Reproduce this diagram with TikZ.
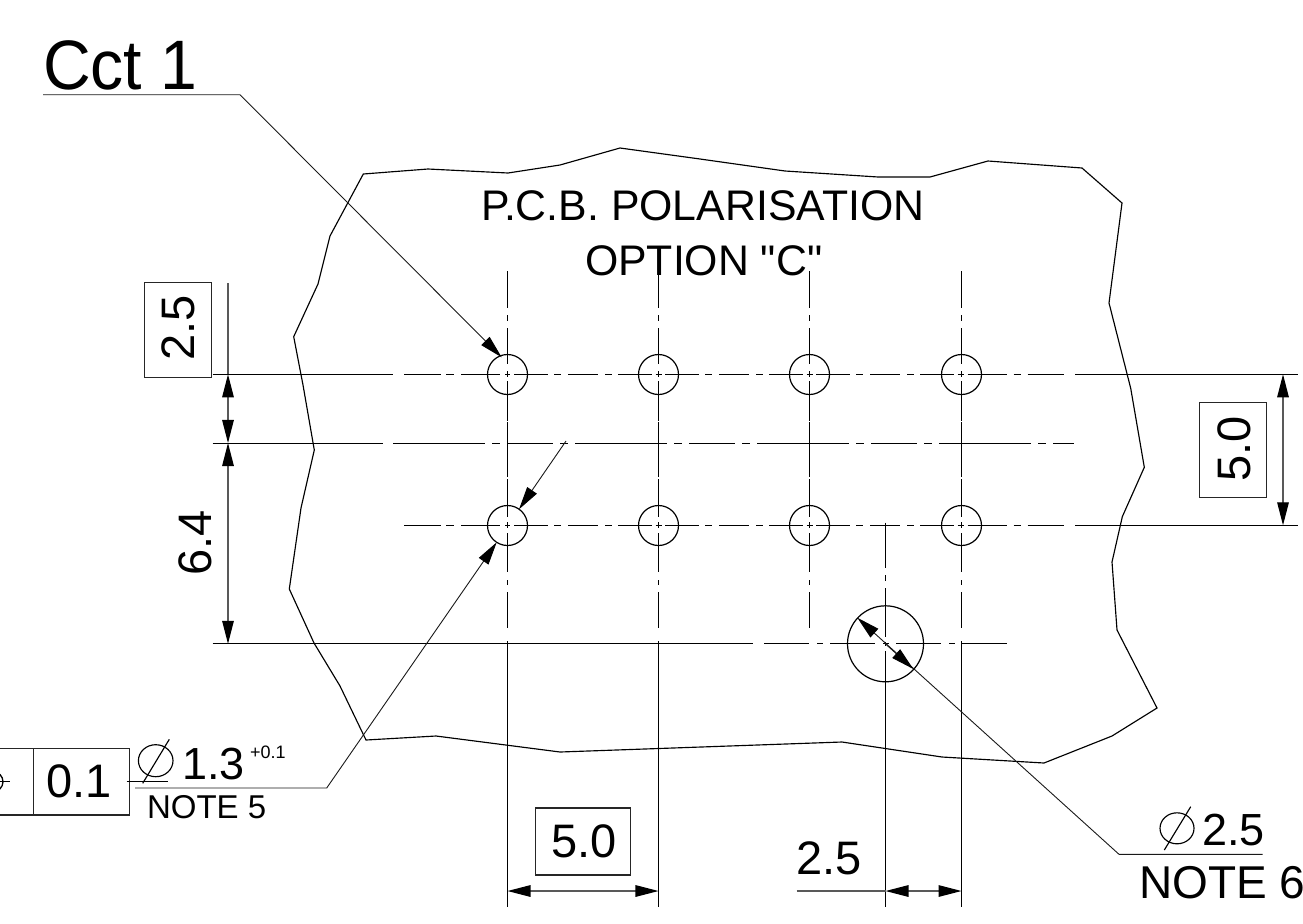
\documentclass[tikz,border=0pt]{standalone}
\usepackage{fontspec}
\setmainfont{Liberation Sans}
\newfontfamily\plainf{Liberation Sans}
\usetikzlibrary{arrows.meta}
\newcommand{\fsz}[1]{\fontsize{#1bp}{#1bp}\selectfont}
\tikzset{
  main/.style={line width=1.3bp,black},
  thin leader/.style={line width=0.9bp,black!90},
  dimline/.style={line width=1.2bp,black!65},
  boxline/.style={line width=1.05bp,black!85},
  tip/.style={-{Triangle[length=23.1pt,width=11.6pt,color=black,fill=black]}},
  bitip/.style={{Triangle[length=23.1pt,width=11.6pt,color=black,fill=black]}-{Triangle[length=23.1pt,width=11.6pt,color=black,fill=black]}},
  holepat/.style={main,dash pattern=on 37bp off 5bp on 8bp off 7bp on 39bp off 5bp
    on 5bp off 4bp on 34bp off 6bp on 7bp off 7bp on 30bp off 7bp on 7bp off 6bp on 34bp off 3.5bp
    on 6bp off 3.5bp on 34bp off 6bp on 7bp off 7bp on 30bp off 7bp on 7bp off 6bp on 34bp off 3.5bp
    on 6bp off 3.5bp on 34bp off 6bp on 7bp off 7bp on 30bp off 7bp on 7bp off 6bp on 34bp off 3.5bp
    on 6bp off 4bp on 39bp off 7bp on 7bp off 7bp on 40bp off 20bp},
  midpat/.style={main,dash pattern=on 91.5bp off 7.5bp on 8bp off 7bp on 46bp off 7bp on 8bp off 7bp},
  lowpat/.style={main,dash pattern=on 45bp off 8bp on 6bp off 7bp},
  hole/.style={circle,draw,line width=1.2bp,minimum size=40bp,inner sep=0pt},
  label/.style={inner sep=0pt,outer sep=0pt},
  dia/.style={line width=1.15bp,black}
}
\begin{document}
\begin{tikzpicture}[x=1bp,y=-1bp]
\clip (0,0) rectangle (1303,923);
% board outline
\draw[line width=1.15bp,line join=miter] (363.3,174) -- (428,169) -- (508,173) -- (560,165) -- (620,148) -- (700,159) -- (785,171) -- (878,177) -- (930,177) -- (988,161) -- (1082,168) -- (1122,203) -- (1109,303) -- (1130.7,388.3) -- (1144.3,467.3) -- (1122.3,516.7) -- (1112,562) -- (1117,630) -- (1157,708) -- (1112,736) -- (1044,763) -- (942,757) -- (842,742) -- (560,752) -- (436,736) -- (366,740) -- (340,686) -- (314,643) -- (289.3,589) -- (301,508) -- (314.3,450) -- (303,385) -- (293.7,336.7) -- (318,284) -- (330,236) -- cycle;
% holes
\foreach \n/\x in {a/507.5,b/658.5,c/809.5,d/961.5}{
  \node[hole] (\n1) at (\x,374.5) {};
  \node[hole] (\n2) at (\x,525.5) {};
  \draw[main] (\x,271) -- (\x,308) (\x,315) -- (\x,321) (\x,328) -- (\x,364) (\x,371) -- (\x,377)
    (\x,381) -- (\x,420.5) (\x,422) -- (\x,477) (\x,479) -- (\x,517) (\x,522) -- (\x,528)
    (\x,533) -- (\x,572) (\x,580) -- (\x,585) (\x,592) -- (\x,628);
}
\foreach \x in {507.5,658.5,961.5}{ \draw[main] (\x,641) -- (\x,906.7); }
% large hole
\node[circle,draw,line width=1.2bp,minimum size=76bp,inner sep=0pt] (big) at (885.5,643.8) {};
\draw[main] (885.5,522.7) -- (885.5,567.7) (885.5,575) -- (885.5,581) (885.5,588) -- (885.5,637) (885.5,641.5) -- (885.5,646) (885.5,651) -- (885.5,906.7);
% horizontal centre lines
\draw[main] (212.7,374.5) -- (393,374.5);
\draw[holepat] (404,374.5) -- (1064,374.5);
\draw[main] (1075,374.5) -- (1298.3,374.5);
\draw[holepat] (404,525.5) -- (1064,525.5);
\draw[main] (1075,525.5) -- (1298.3,525.5);
\draw[main] (212.7,443.5) -- (382.5,443.5);
\draw[midpat] (393,443.5) -- (1074,443.5);
\draw[main] (212.7,643.8) -- (752.7,643.8);
\draw[lowpat] (764,643.8) -- (942,643.8);
\draw[main] (949,643.8) -- (955,643.8) (962,643.8) -- (1006.7,643.8);
% left dimensions
\coordinate (lt) at (228,283);
\coordinate (l1) at (228,374.3);
\coordinate (l2) at (228,443);
\coordinate (l3) at (228,643.8);
\draw[dimline] (lt) -- (l1);
\draw[dimline,bitip] (l1) -- (l2);
\draw[dimline,bitip] (l2) -- (l3);
\node[label,draw,boxline,minimum width=67.4bp,minimum height=94.5bp] (b25) at (178,330.2) {};
\node[label,rotate=90] (t25) at (178.5,328) {\fsz{47}2.5};
\node[label,rotate=90] (t64) at (195,543) {\fsz{47}6.4};
% right dimension
\coordinate (r1) at (1283,374.3);
\coordinate (r2) at (1283,525.3);
\draw[dimline,bitip] (r1) -- (r2);
\node[label,draw,boxline,minimum width=67.4bp,minimum height=95bp] (b50r) at (1233,449.8) {};
\node[label,rotate=90] (t50r) at (1234,449) {\fsz{47}5.0};
% bottom dimensions
\coordinate (b1) at (507.5,891);
\coordinate (b2) at (658.5,891);
\coordinate (b3) at (885.5,891);
\coordinate (b4) at (961.5,891);
\coordinate (b5) at (796.7,891);
\draw[dimline,bitip] (b1) -- (b2);
\draw[dimline,bitip] (b3) -- (b4);
\draw[dimline] (b5) -- (b3);
\node[label,draw,boxline,minimum width=94.6bp,minimum height=67bp] (b50) at (583,841.5) {};
\node[label] (t50) at (584.3,841.7) {\fsz{47}5.0};
\node[label] (t25b) at (829,858) {\fsz{47}2.5};
% title
\node[label,anchor=base west] (title1) at (481,220.7) {\fsz{42.8}P.C.B. POLARISATION};
\node[label,anchor=base west] (title2) at (585,275) {\fsz{42.8}\plainf OPTION "C"};
% Cct 1 leader
\node[label,anchor=base west,xscale=0.945,transform shape] (cct) at (43,89.3) {\fsz{70}Cct 1};
\coordinate (c0) at (43,94.7);
\coordinate (c1) at (240,94.7);
\coordinate (c2) at (501.7,357.3);
\draw[thin leader,tip] (c0) -- (c1) -- (c2);
% short arrow
\coordinate (s0) at (566,441);
\coordinate (s1) at (519,509.3);
\draw[thin leader,tip] (s0) -- (s1);
% note 5 leader
\coordinate (n0) at (135,788);
\coordinate (n1) at (326.7,788);
\coordinate (n2) at (496.7,542.3);
\draw[thin leader,tip] (n0) -- (n1) -- (n2);
% note 6 leader
\coordinate (m0) at (1262.7,854.3);
\coordinate (m1) at (1119,854.3);
\coordinate (m2) at (857.3,617.7);
\coordinate (m3) at (913.3,669);
\draw[thin leader,tip] (m0) -- (m1) -- (m2);
\draw[thin leader,tip] (885,643.5) -- (m3);
% tolerance frame
\draw[boxline] (0,748.3) -- (129.3,748.3) -- (129.3,815) -- (0,815);
\draw[boxline] (33.3,748.3) -- (33.3,815);
\draw[main] (-7,781.7) circle[radius=10];
\draw[main] (0,781.7) -- (10,781.7);
\draw[main] (126.7,781.7) -- (167.7,781.7);
\node[label] (t01) at (79,781.7) {\fsz{47}0.1};
% diameter 1.3
\draw[dia] (155.7,760.7) circle[x radius=17.3,y radius=16];
\draw[dia] (142.7,783.3) -- (169.3,739.3);
\node[label,anchor=base west] (t13) at (182,779.3) {\fsz{45}1.3};
\node[label,anchor=base west] (tpl) at (250,758.3) {\fsz{18}+0.1};
\node[label,anchor=base west] (nt5) at (147,818.5) {\fsz{33}NOTE 5};
% diameter 2.5
\draw[dia] (1177,828.3) circle[x radius=17,y radius=15.5];
\draw[dia] (1164.3,850) -- (1190.7,806.7);
\node[label,anchor=base west] (t25d) at (1202,845) {\fsz{45}2.5};
\node[label,anchor=base west] (nt6) at (1139,898.3) {\fsz{46}NOTE 6};
\end{tikzpicture}
\end{document}
